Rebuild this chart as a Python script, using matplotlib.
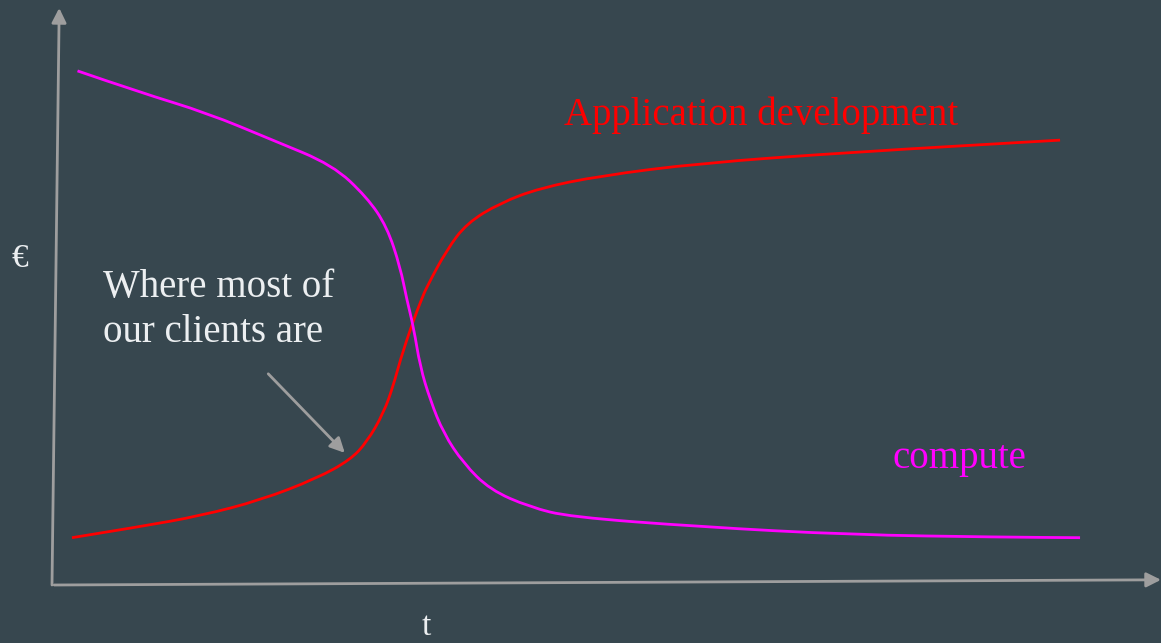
import matplotlib
matplotlib.use("Agg")
import matplotlib.pyplot as plt
from matplotlib.path import Path
from matplotlib.patches import PathPatch

# values, in axis units (t: 0..100, euro: 0..100)
app_t = [1.8, 7.9, 13.4, 18.8, 23.9, 26.9, 28.4, 29.9, 30.8, 31.4, 32.5, 33.3,
         33.8, 35.6, 37.4, 40.4, 44.0, 49.4, 58.4, 72.0, 90.9]
app_v = [8.2, 10.1, 12.0, 14.7, 18.5, 21.7, 24.8, 29.8, 34.7, 39.0, 45.4, 49.4,
         51.7, 58.1, 62.7, 66.2, 68.8, 70.9, 73.1, 75.0, 77.1]

comp_t = [2.3, 7.9, 14.0, 19.9, 25.3, 28.4, 30.2, 31.4, 32.0, 32.6, 33.2,
          34.1, 35.3, 37.1, 39.5, 43.1, 46.7, 58.4, 72.0, 85.5, 92.7]
comp_v = [89.1, 85.4, 81.8, 77.1, 72.8, 67.2, 62.1, 55.1, 49.4, 44.7, 37.8,
          32.1, 26.3, 21.1, 16.5, 13.5, 11.8, 10.1, 8.7, 8.3, 8.2]

bg = "#37474f"
axis_grey = "#9e9e9e"
text_col = "#eceff1"

plt.rcParams["font.family"] = ["Liberation Serif", "DejaVu Serif"]


def smooth_path(xs, ys):
    # quadratic bezier through midpoints, so the curve has no corners
    pts = list(zip(xs, ys))
    verts = [pts[0]]
    codes = [Path.MOVETO]
    for i in range(1, len(pts) - 1):
        mid = ((pts[i][0] + pts[i + 1][0]) / 2, (pts[i][1] + pts[i + 1][1]) / 2)
        verts += [pts[i], mid]
        codes += [Path.CURVE3, Path.CURVE3]
    verts.append(pts[-1])
    codes.append(Path.LINETO)
    return Path(verts, codes)


fig = plt.figure(figsize=(11.61, 6.43), dpi=100, facecolor=bg)
ax = fig.add_axes([52 / 1161, 58 / 643, 1109 / 1161, 577 / 643])
ax.set_facecolor(bg)
ax.set_xlim(0, 100)
ax.set_ylim(0, 100)
ax.axis("off")

arrow = dict(arrowstyle="-|>", color=axis_grey, lw=2, mutation_scale=22,
             shrinkA=0, shrinkB=0)

# hand-drawn style axes
ax.annotate("", xy=(0.65, 100), xytext=(0, 0), arrowprops=arrow,
            annotation_clip=False)
ax.annotate("", xy=(100, 0.9), xytext=(0.2, 0), arrowprops=arrow,
            annotation_clip=False)

ax.add_patch(PathPatch(smooth_path(app_t, app_v), fill=False,
                       edgecolor="#ff0000", lw=2))
ax.add_patch(PathPatch(smooth_path(comp_t, comp_v), fill=False,
                       edgecolor="#ff00ff", lw=2))

ax.text(46.2, 79.7, "Application development", color="#ff0000", fontsize=28,
        va="baseline", ha="left")
ax.text(75.8, 20.3, "compute", color="#ff00ff", fontsize=28,
        va="baseline", ha="left")

ax.text(4.6, 42.1, "Where most of\nour clients are", color=text_col,
        fontsize=28, ha="left", va="baseline", linespacing=1.3)
ax.annotate("", xy=(26.4, 22.9), xytext=(19.5, 36.6), arrowprops=arrow)

fig.text(20 / 1161, 1 - 259 / 643, "€", color=text_col, fontsize=24,
         ha="center", va="center")
fig.text(426 / 1161, 1 - 627 / 643, "t", color=text_col, fontsize=24,
         ha="center", va="center")

fig.savefig("out.png", dpi=100, facecolor=bg)
